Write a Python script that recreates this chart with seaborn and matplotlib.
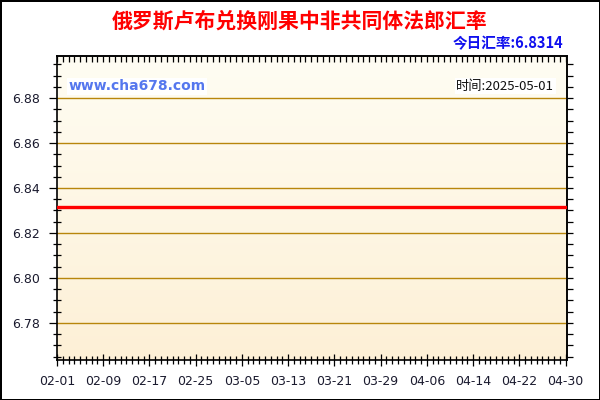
import numpy as np
import pandas as pd
import seaborn as sns
import matplotlib.pyplot as plt
import matplotlib.dates as mdates
from matplotlib.colors import LinearSegmentedColormap
from matplotlib.ticker import FixedLocator, MultipleLocator

# data: flat rate over the whole period
dates = pd.date_range("2025-02-01", "2025-04-30", freq="D")
rates = [6.8314] * len(dates)
tick_dates = dates[::8]
tick_labels = [d.strftime("%m-%d") for d in tick_dates]
y_ticks = [6.78, 6.80, 6.82, 6.84, 6.86, 6.88]

title = "俄罗斯卢布兑换刚果中非共同体法郎汇率"
today_rate = "今日汇率:6.8314"
site = "www.cha678.com"
stamp = "时间:2025-05-01"

sns.set_theme(style="ticks")
plt.rcParams['font.family'] = ['DejaVu Sans', 'Noto Sans CJK SC']
cjk = ['Noto Sans CJK SC', 'DejaVu Sans']

fig = plt.figure(figsize=(6, 4), dpi=100, facecolor="white", edgecolor="black", linewidth=2)
ax = fig.add_axes([57/600, 40/400, 510/600, 304/400])

# background gradient, light at top, warmer at bottom
grad = np.linspace(0, 1, 256).reshape(-1, 1)
cmap = LinearSegmentedColormap.from_list("bg", ["#FFFDF3", "#FDF0D6"])
ax.imshow(grad, extent=[0, 1, 0, 1], transform=ax.transAxes, aspect="auto",
          cmap=cmap, zorder=0)

df = pd.DataFrame({"date": dates, "rate": rates})
sns.lineplot(data=df, x="date", y="rate", color="#FF0000", linewidth=2.4, ax=ax, zorder=3)

ax.set_xlim(dates[0], dates[-1] + pd.Timedelta(hours=6))
ax.set_ylim(6.7635, 6.8987)
ax.set_xlabel("")
ax.set_ylabel("")

ax.xaxis.set_major_locator(FixedLocator(mdates.date2num(tick_dates)))
ax.set_xticklabels(tick_labels)
ax.xaxis.set_minor_locator(MultipleLocator(1))
ax.yaxis.set_major_locator(FixedLocator(y_ticks))
ax.set_yticklabels([f"{v:.2f}" for v in y_ticks])
ax.yaxis.set_minor_locator(MultipleLocator(0.005))

for v in y_ticks:
    ax.axhline(v, color="#B8860B", linewidth=1, zorder=1)

ax.tick_params(axis="both", which="both", colors="black", labelcolor="#1a1a2e",
               labelsize=9, width=0.9, bottom=True, left=True, top=False, right=False)
# bottom / left ticks cross the spine, top ones point in, right ones point out
ax.tick_params(axis="x", which="major", direction="inout", length=9, pad=6)
ax.tick_params(axis="x", which="minor", direction="inout", length=6)
ax.tick_params(axis="y", which="major", direction="out", length=6, pad=6)
ax.tick_params(axis="y", which="minor", direction="inout", length=6)

sx = ax.secondary_xaxis("top")
sx.xaxis.set_major_locator(FixedLocator(mdates.date2num(tick_dates)))
sx.xaxis.set_minor_locator(MultipleLocator(1))
sx.tick_params(which="both", direction="in", length=4, top=True, labeltop=False,
               width=0.9, colors="black")
sy = ax.secondary_yaxis("right")
sy.yaxis.set_major_locator(FixedLocator(y_ticks))
sy.yaxis.set_minor_locator(MultipleLocator(0.005))
sy.tick_params(which="both", direction="out", length=4, right=True, labelright=False,
               width=0.9, colors="black")
for s in ax.spines.values():
    s.set_color("black")
    s.set_linewidth(1.2)
    s.set_visible(True)

fig.text(0.5, 0.948, title, ha="center", va="center", fontsize=15, fontweight="bold",
         color="#FF0000", family=cjk)
fig.text(563/600, 1 - 43/400, today_rate, ha="right", va="center", fontsize=10.5,
         fontweight="bold", color="#1010EE", family=cjk)
ax.text(0.022, 0.9, site, transform=ax.transAxes, ha="left", va="center", fontsize=10,
        fontweight="bold", color="#5577EE", zorder=4,
        bbox=dict(facecolor="white", edgecolor="none", pad=1))
ax.text(0.975, 0.9, stamp, transform=ax.transAxes, ha="right", va="center", fontsize=9.5,
        color="#111111", family=cjk, zorder=4,
        bbox=dict(facecolor="white", edgecolor="none", pad=1))

fig.savefig("out.png", dpi=100)
